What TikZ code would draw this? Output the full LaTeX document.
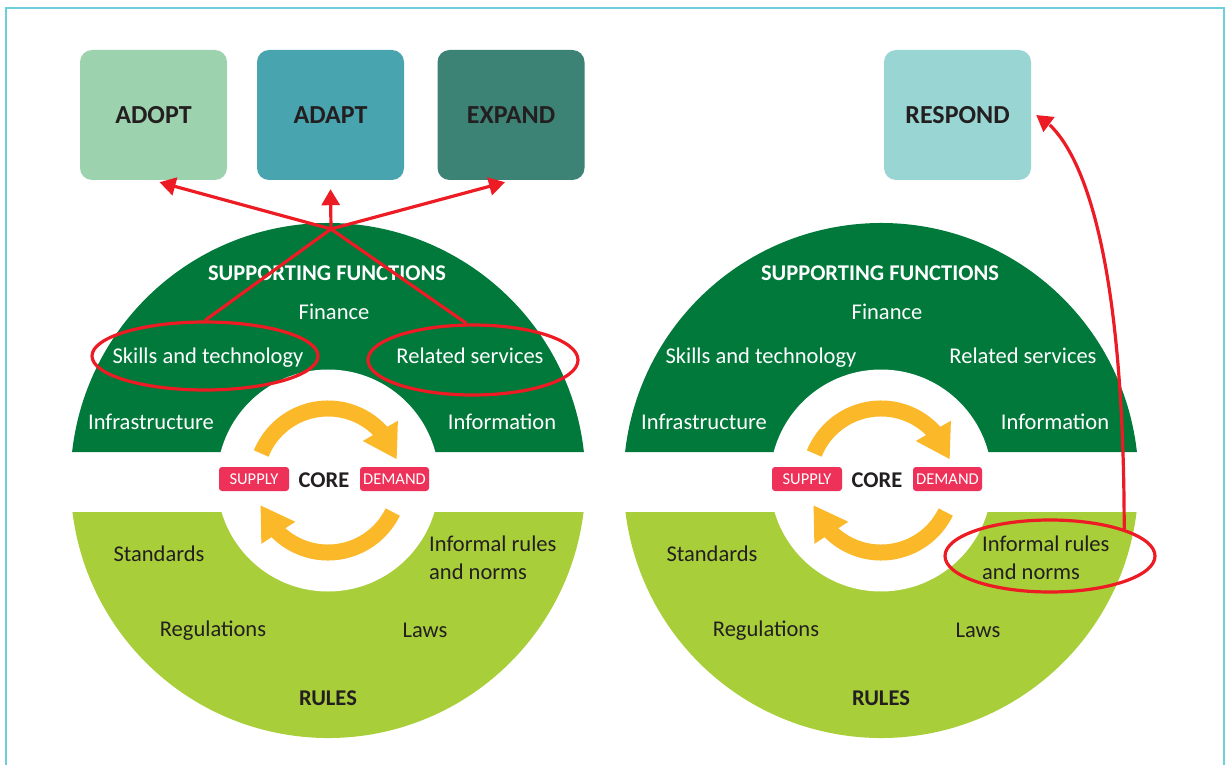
\documentclass[tikz,border=0pt]{standalone}
\usepackage{fontspec}
\setmainfont{Carlito}
\usetikzlibrary{arrows.meta, bending, shapes.geometric}

\definecolor{supportgreen}{RGB}{0,121,59}
\definecolor{rulesgreen}{RGB}{168,206,58}
\definecolor{cycleorange}{RGB}{251,184,41}
\definecolor{tagpink}{RGB}{238,49,88}
\definecolor{linkred}{RGB}{237,28,36}
\definecolor{adoptfill}{RGB}{156,211,174}
\definecolor{adaptfill}{RGB}{72,164,175}
\definecolor{expandfill}{RGB}{60,131,118}
\definecolor{respondfill}{RGB}{153,214,211}
\definecolor{framecyan}{RGB}{109,207,222}
\definecolor{textdark}{RGB}{35,31,32}

\begin{document}
\begin{tikzpicture}[x=1pt, y=1pt,
response/.style={rounded corners=12pt, minimum width=147pt, minimum height=130pt,
  inner sep=0pt, text=textdark, font=\fontsize{26}{30}\selectfont\bfseries},
%
supporttext/.style={text=white, inner sep=0pt, text height=20pt, text depth=3pt,
  font=\fontsize{22.5}{28}\selectfont},
%
rulestext/.style={supporttext, text=textdark},
%
heading/.style={inner sep=0pt, text height=16pt, text depth=0pt,
  font=\fontsize{22.5}{28}\selectfont\bfseries},
%
tagbox/.style={fill=tagpink, text=white, rounded corners=3pt, minimum width=70pt,
  minimum height=24pt, inner sep=0pt, font=\fontsize{16.5}{20}\selectfont},
%
ring/.style={draw=linkred, line width=3.2pt, ellipse, inner sep=0pt},
%
link/.style={draw=linkred, line width=3.2pt, -{Triangle[length=16pt, width=18pt]}},
%
cyclearrow/.style={draw=cycleorange, line width=16pt,
  -{Triangle[length=33pt, width=38pt]}}]

\useasboundingbox (0,0) rectangle (1227,-765);
\draw [framecyan, line width=2pt] (6,-765) -- (6,-8.5) -- (1224,-8.5) -- (1224,-765);

%%%%%%%%%%%%%%%%%%%%%%%%%%%%%% market system, left
\begin{scope}
  \coordinate (lcentre) at (328,-480.5);
  \fill [supportgreen] (lcentre) ++(6.35:257.5)
    arc [start angle=6.35, end angle=173.65, radius=257.5] -- cycle;
  \fill [rulesgreen] (lcentre) ++(-7.03:257.5)
    arc [start angle=-7.03, end angle=-172.97, radius=257.5] -- cycle;
  \fill [white] (lcentre) circle [radius=111];
  \draw [cyclearrow] (lcentre) ++(158:72) arc [start angle=158, end angle=17, radius=72];
  \draw [cyclearrow] (lcentre) ++(-26:72) arc [start angle=-26, end angle=-160, radius=72];
  %%%%%%%%%%%%%%%%%%%%%%%%%%%%%%
  \node [heading, text=white] (lsupport) at (327,-272) {SUPPORTING FUNCTIONS};
  \node [supporttext] (lfinance) at (334,-311) {Finance};
  \node [supporttext] (lskills) at (208,-355) {Skills and technology};
  \node [supporttext] (lrelated) at (470,-355) {Related services};
  \node [supporttext] (linfra) at (151,-421) {Infrastructure};
  \node [supporttext] (linfo) at (502,-421) {Information};
  %%%%%%%%%%%%%%%%%%%%%%%%%%%%%%
  \node [heading, text=textdark] (lcore) at (324,-479) {CORE};
  \node [tagbox] (lsupply) at (254,-479) {SUPPLY};
  \node [tagbox, minimum width=69pt] (ldemand) at (394.5,-479) {DEMAND};
  %%%%%%%%%%%%%%%%%%%%%%%%%%%%%%
  \node [rulestext] (lstandards) at (159,-553) {Standards};
  \node [rulestext, text height=, text depth=, anchor=west, align=left]
    (linformal) at (429,-558) {Informal rules\\and norms};
  \node [rulestext] (lregulations) at (213,-628) {Regulations};
  \node [rulestext] (llaws) at (425,-629) {Laws};
  \node [heading, text=textdark] (lrules) at (328,-697) {RULES};
  %%%%%%%%%%%%%%%%%%%%%%%%%%%%%%
  \node [ring, minimum width=226pt, minimum height=68pt] (skillsRing) at (205,-356) {};
  \node [ring, minimum width=210pt, minimum height=70pt] (relatedRing) at (473,-360) {};
\end{scope}

%%%%%%%%%%%%%%%%%%%%%%%%%%%%%% market system, right
\begin{scope}[shift={(553,0)}]
  \coordinate (rcentre) at (328,-480.5);
  \fill [supportgreen] (rcentre) ++(6.35:257.5)
    arc [start angle=6.35, end angle=173.65, radius=257.5] -- cycle;
  \fill [rulesgreen] (rcentre) ++(-7.03:257.5)
    arc [start angle=-7.03, end angle=-172.97, radius=257.5] -- cycle;
  \fill [white] (rcentre) circle [radius=111];
  \draw [cyclearrow] (rcentre) ++(158:72) arc [start angle=158, end angle=17, radius=72];
  \draw [cyclearrow] (rcentre) ++(-26:72) arc [start angle=-26, end angle=-160, radius=72];
  %%%%%%%%%%%%%%%%%%%%%%%%%%%%%%
  \node [heading, text=white] (rsupport) at (327,-272) {SUPPORTING FUNCTIONS};
  \node [supporttext] (rfinance) at (334,-311) {Finance};
  \node [supporttext] (rskills) at (208,-355) {Skills and technology};
  \node [supporttext] (rrelated) at (470,-355) {Related services};
  \node [supporttext] (rinfra) at (151,-421) {Infrastructure};
  \node [supporttext] (rinfo) at (502,-421) {Information};
  %%%%%%%%%%%%%%%%%%%%%%%%%%%%%%
  \node [heading, text=textdark] (rcore) at (324,-479) {CORE};
  \node [tagbox] (rsupply) at (254,-479) {SUPPLY};
  \node [tagbox, minimum width=69pt] (rdemand) at (394.5,-479) {DEMAND};
  %%%%%%%%%%%%%%%%%%%%%%%%%%%%%%
  \node [rulestext] (rstandards) at (159,-553) {Standards};
  \node [rulestext, text height=, text depth=, anchor=west, align=left]
    (rinformal) at (429,-558) {Informal rules\\and norms};
  \node [rulestext] (rregulations) at (213,-628) {Regulations};
  \node [rulestext] (rlaws) at (425,-629) {Laws};
  \node [heading, text=textdark] (rrules) at (328,-697) {RULES};
  %%%%%%%%%%%%%%%%%%%%%%%%%%%%%%
  \node [ring, minimum width=210pt, minimum height=72pt] (informalRing) at (497,-556) {};
\end{scope}

%%%%%%%%%%%%%%%%%%%%%%%%%%%%%% responses
\node [response, fill=adoptfill] (adopt) at (153.5,-115) {ADOPT};
\node [response, fill=adaptfill] (adapt) at (330.5,-115) {ADAPT};
\node [response, fill=expandfill] (expand) at (511,-115) {EXPAND};
\node [response, fill=respondfill] (respond) at (957.5,-115) {RESPOND};

\coordinate (hub) at (331,-229);
\draw [link] (skillsRing.north) -- (hub) -- ([shift={(-6,-2)}]expand.south);
\draw [link] (relatedRing.100) -- (hub) -- ([shift={(6,-2)}]adopt.south);
\draw [link] (hub) -- ([yshift=-9pt]adapt.south);
\draw [link] (informalRing.20) .. controls (1124,-230) and (1075,-135)
  .. ([xshift=5pt]respond.east);

\end{tikzpicture}
\end{document}
